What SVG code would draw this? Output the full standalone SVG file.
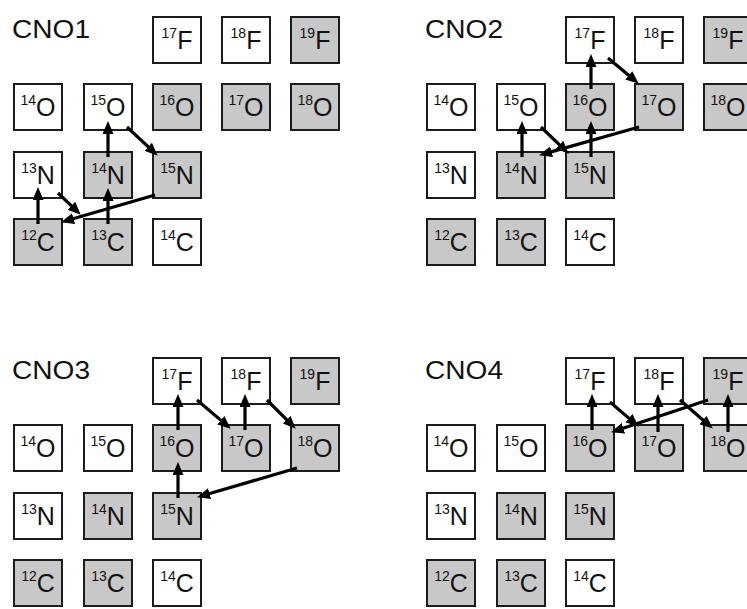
<svg xmlns="http://www.w3.org/2000/svg" width="747" height="609" viewBox="0 0 747 609">
<style>
.b{stroke:#1c1c1c;stroke-width:2}
.w{fill:#ffffff}
.g{fill:#c8c8c8}
.l{font-family:"Liberation Sans",Arial,sans-serif;fill:#111;text-anchor:middle}
.s{font-size:14px}
.e{font-size:25px}
.t{font-family:"Liberation Sans",Arial,sans-serif;font-size:25px;fill:#111}
.a{stroke:#000;stroke-width:3.2;fill:none;marker-end:url(#ah)}
</style>
<defs>
<marker id="ah" viewBox="0 0 13 11" refX="6" refY="5.5" markerWidth="13" markerHeight="11" markerUnits="userSpaceOnUse" orient="auto"><path d="M0,0 L13,5.5 L0,11 z" fill="#000"/></marker>
</defs>
<rect width="747" height="609" fill="#fff"/>

<g id="cno1">
<text class="t" x="12" y="38" textLength="78" lengthAdjust="spacingAndGlyphs">CNO1</text>
<g id="c1-17F"><rect class="b w" x="153" y="17" width="48" height="46"/><text class="l" x="177" y="49"><tspan class="s" dy="-11">17</tspan><tspan class="e" dy="11">F</tspan></text></g>
<g id="c1-18F"><rect class="b w" x="222" y="17" width="48" height="46"/><text class="l" x="246" y="49"><tspan class="s" dy="-11">18</tspan><tspan class="e" dy="11">F</tspan></text></g>
<g id="c1-19F"><rect class="b g" x="291" y="17" width="48" height="46"/><text class="l" x="315" y="49"><tspan class="s" dy="-11">19</tspan><tspan class="e" dy="11">F</tspan></text></g>
<g id="c1-14O"><rect class="b w" x="14" y="84" width="48" height="46"/><text class="l" x="38" y="116"><tspan class="s" dy="-11">14</tspan><tspan class="e" dy="11">O</tspan></text></g>
<g id="c1-15O"><rect class="b w" x="84" y="84" width="48" height="46"/><text class="l" x="108" y="116"><tspan class="s" dy="-11">15</tspan><tspan class="e" dy="11">O</tspan></text></g>
<g id="c1-16O"><rect class="b g" x="153" y="84" width="48" height="46"/><text class="l" x="177" y="116"><tspan class="s" dy="-11">16</tspan><tspan class="e" dy="11">O</tspan></text></g>
<g id="c1-17O"><rect class="b g" x="222" y="84" width="48" height="46"/><text class="l" x="246" y="116"><tspan class="s" dy="-11">17</tspan><tspan class="e" dy="11">O</tspan></text></g>
<g id="c1-18O"><rect class="b g" x="291" y="84" width="48" height="46"/><text class="l" x="315" y="116"><tspan class="s" dy="-11">18</tspan><tspan class="e" dy="11">O</tspan></text></g>
<g id="c1-13N"><rect class="b w" x="14" y="152" width="48" height="46"/><text class="l" x="38" y="184"><tspan class="s" dy="-11">13</tspan><tspan class="e" dy="11">N</tspan></text></g>
<g id="c1-14N"><rect class="b g" x="84" y="152" width="48" height="46"/><text class="l" x="108" y="184"><tspan class="s" dy="-11">14</tspan><tspan class="e" dy="11">N</tspan></text></g>
<g id="c1-15N"><rect class="b g" x="153" y="152" width="48" height="46"/><text class="l" x="177" y="184"><tspan class="s" dy="-11">15</tspan><tspan class="e" dy="11">N</tspan></text></g>
<g id="c1-12C"><rect class="b g" x="14" y="219" width="48" height="46"/><text class="l" x="38" y="251"><tspan class="s" dy="-11">12</tspan><tspan class="e" dy="11">C</tspan></text></g>
<g id="c1-13C"><rect class="b g" x="84" y="219" width="48" height="46"/><text class="l" x="108" y="251"><tspan class="s" dy="-11">13</tspan><tspan class="e" dy="11">C</tspan></text></g>
<g id="c1-14C"><rect class="b w" x="153" y="219" width="48" height="46"/><text class="l" x="177" y="251"><tspan class="s" dy="-11">14</tspan><tspan class="e" dy="11">C</tspan></text></g>
</g>

<g id="cno2" transform="translate(413,0)">
<text class="t" x="12" y="38" textLength="78" lengthAdjust="spacingAndGlyphs">CNO2</text>
<g id="c2-17F"><rect class="b w" x="153" y="17" width="48" height="46"/><text class="l" x="177" y="49"><tspan class="s" dy="-11">17</tspan><tspan class="e" dy="11">F</tspan></text></g>
<g id="c2-18F"><rect class="b w" x="222" y="17" width="48" height="46"/><text class="l" x="246" y="49"><tspan class="s" dy="-11">18</tspan><tspan class="e" dy="11">F</tspan></text></g>
<g id="c2-19F"><rect class="b g" x="291" y="17" width="48" height="46"/><text class="l" x="315" y="49"><tspan class="s" dy="-11">19</tspan><tspan class="e" dy="11">F</tspan></text></g>
<g id="c2-14O"><rect class="b w" x="14" y="84" width="48" height="46"/><text class="l" x="38" y="116"><tspan class="s" dy="-11">14</tspan><tspan class="e" dy="11">O</tspan></text></g>
<g id="c2-15O"><rect class="b w" x="84" y="84" width="48" height="46"/><text class="l" x="108" y="116"><tspan class="s" dy="-11">15</tspan><tspan class="e" dy="11">O</tspan></text></g>
<g id="c2-16O"><rect class="b g" x="153" y="84" width="48" height="46"/><text class="l" x="177" y="116"><tspan class="s" dy="-11">16</tspan><tspan class="e" dy="11">O</tspan></text></g>
<g id="c2-17O"><rect class="b g" x="222" y="84" width="48" height="46"/><text class="l" x="246" y="116"><tspan class="s" dy="-11">17</tspan><tspan class="e" dy="11">O</tspan></text></g>
<g id="c2-18O"><rect class="b g" x="291" y="84" width="48" height="46"/><text class="l" x="315" y="116"><tspan class="s" dy="-11">18</tspan><tspan class="e" dy="11">O</tspan></text></g>
<g id="c2-13N"><rect class="b w" x="14" y="152" width="48" height="46"/><text class="l" x="38" y="184"><tspan class="s" dy="-11">13</tspan><tspan class="e" dy="11">N</tspan></text></g>
<g id="c2-14N"><rect class="b g" x="84" y="152" width="48" height="46"/><text class="l" x="108" y="184"><tspan class="s" dy="-11">14</tspan><tspan class="e" dy="11">N</tspan></text></g>
<g id="c2-15N"><rect class="b g" x="153" y="152" width="48" height="46"/><text class="l" x="177" y="184"><tspan class="s" dy="-11">15</tspan><tspan class="e" dy="11">N</tspan></text></g>
<g id="c2-12C"><rect class="b g" x="14" y="219" width="48" height="46"/><text class="l" x="38" y="251"><tspan class="s" dy="-11">12</tspan><tspan class="e" dy="11">C</tspan></text></g>
<g id="c2-13C"><rect class="b g" x="84" y="219" width="48" height="46"/><text class="l" x="108" y="251"><tspan class="s" dy="-11">13</tspan><tspan class="e" dy="11">C</tspan></text></g>
<g id="c2-14C"><rect class="b w" x="153" y="219" width="48" height="46"/><text class="l" x="177" y="251"><tspan class="s" dy="-11">14</tspan><tspan class="e" dy="11">C</tspan></text></g>
</g>

<g id="cno3" transform="translate(0,341)">
<text class="t" x="12" y="38" textLength="78" lengthAdjust="spacingAndGlyphs">CNO3</text>
<g id="c3-17F"><rect class="b w" x="153" y="17" width="48" height="46"/><text class="l" x="177" y="49"><tspan class="s" dy="-11">17</tspan><tspan class="e" dy="11">F</tspan></text></g>
<g id="c3-18F"><rect class="b w" x="222" y="17" width="48" height="46"/><text class="l" x="246" y="49"><tspan class="s" dy="-11">18</tspan><tspan class="e" dy="11">F</tspan></text></g>
<g id="c3-19F"><rect class="b g" x="291" y="17" width="48" height="46"/><text class="l" x="315" y="49"><tspan class="s" dy="-11">19</tspan><tspan class="e" dy="11">F</tspan></text></g>
<g id="c3-14O"><rect class="b w" x="14" y="84" width="48" height="46"/><text class="l" x="38" y="116"><tspan class="s" dy="-11">14</tspan><tspan class="e" dy="11">O</tspan></text></g>
<g id="c3-15O"><rect class="b w" x="84" y="84" width="48" height="46"/><text class="l" x="108" y="116"><tspan class="s" dy="-11">15</tspan><tspan class="e" dy="11">O</tspan></text></g>
<g id="c3-16O"><rect class="b g" x="153" y="84" width="48" height="46"/><text class="l" x="177" y="116"><tspan class="s" dy="-11">16</tspan><tspan class="e" dy="11">O</tspan></text></g>
<g id="c3-17O"><rect class="b g" x="222" y="84" width="48" height="46"/><text class="l" x="246" y="116"><tspan class="s" dy="-11">17</tspan><tspan class="e" dy="11">O</tspan></text></g>
<g id="c3-18O"><rect class="b g" x="291" y="84" width="48" height="46"/><text class="l" x="315" y="116"><tspan class="s" dy="-11">18</tspan><tspan class="e" dy="11">O</tspan></text></g>
<g id="c3-13N"><rect class="b w" x="14" y="152" width="48" height="46"/><text class="l" x="38" y="184"><tspan class="s" dy="-11">13</tspan><tspan class="e" dy="11">N</tspan></text></g>
<g id="c3-14N"><rect class="b g" x="84" y="152" width="48" height="46"/><text class="l" x="108" y="184"><tspan class="s" dy="-11">14</tspan><tspan class="e" dy="11">N</tspan></text></g>
<g id="c3-15N"><rect class="b g" x="153" y="152" width="48" height="46"/><text class="l" x="177" y="184"><tspan class="s" dy="-11">15</tspan><tspan class="e" dy="11">N</tspan></text></g>
<g id="c3-12C"><rect class="b g" x="14" y="219" width="48" height="46"/><text class="l" x="38" y="251"><tspan class="s" dy="-11">12</tspan><tspan class="e" dy="11">C</tspan></text></g>
<g id="c3-13C"><rect class="b g" x="84" y="219" width="48" height="46"/><text class="l" x="108" y="251"><tspan class="s" dy="-11">13</tspan><tspan class="e" dy="11">C</tspan></text></g>
<g id="c3-14C"><rect class="b w" x="153" y="219" width="48" height="46"/><text class="l" x="177" y="251"><tspan class="s" dy="-11">14</tspan><tspan class="e" dy="11">C</tspan></text></g>
</g>

<g id="cno4" transform="translate(413,341)">
<text class="t" x="12" y="38" textLength="78" lengthAdjust="spacingAndGlyphs">CNO4</text>
<g id="c4-17F"><rect class="b w" x="153" y="17" width="48" height="46"/><text class="l" x="177" y="49"><tspan class="s" dy="-11">17</tspan><tspan class="e" dy="11">F</tspan></text></g>
<g id="c4-18F"><rect class="b w" x="222" y="17" width="48" height="46"/><text class="l" x="246" y="49"><tspan class="s" dy="-11">18</tspan><tspan class="e" dy="11">F</tspan></text></g>
<g id="c4-19F"><rect class="b g" x="291" y="17" width="48" height="46"/><text class="l" x="315" y="49"><tspan class="s" dy="-11">19</tspan><tspan class="e" dy="11">F</tspan></text></g>
<g id="c4-14O"><rect class="b w" x="14" y="84" width="48" height="46"/><text class="l" x="38" y="116"><tspan class="s" dy="-11">14</tspan><tspan class="e" dy="11">O</tspan></text></g>
<g id="c4-15O"><rect class="b w" x="84" y="84" width="48" height="46"/><text class="l" x="108" y="116"><tspan class="s" dy="-11">15</tspan><tspan class="e" dy="11">O</tspan></text></g>
<g id="c4-16O"><rect class="b g" x="153" y="84" width="48" height="46"/><text class="l" x="177" y="116"><tspan class="s" dy="-11">16</tspan><tspan class="e" dy="11">O</tspan></text></g>
<g id="c4-17O"><rect class="b g" x="222" y="84" width="48" height="46"/><text class="l" x="246" y="116"><tspan class="s" dy="-11">17</tspan><tspan class="e" dy="11">O</tspan></text></g>
<g id="c4-18O"><rect class="b g" x="291" y="84" width="48" height="46"/><text class="l" x="315" y="116"><tspan class="s" dy="-11">18</tspan><tspan class="e" dy="11">O</tspan></text></g>
<g id="c4-13N"><rect class="b w" x="14" y="152" width="48" height="46"/><text class="l" x="38" y="184"><tspan class="s" dy="-11">13</tspan><tspan class="e" dy="11">N</tspan></text></g>
<g id="c4-14N"><rect class="b g" x="84" y="152" width="48" height="46"/><text class="l" x="108" y="184"><tspan class="s" dy="-11">14</tspan><tspan class="e" dy="11">N</tspan></text></g>
<g id="c4-15N"><rect class="b g" x="153" y="152" width="48" height="46"/><text class="l" x="177" y="184"><tspan class="s" dy="-11">15</tspan><tspan class="e" dy="11">N</tspan></text></g>
<g id="c4-12C"><rect class="b g" x="14" y="219" width="48" height="46"/><text class="l" x="38" y="251"><tspan class="s" dy="-11">12</tspan><tspan class="e" dy="11">C</tspan></text></g>
<g id="c4-13C"><rect class="b g" x="84" y="219" width="48" height="46"/><text class="l" x="108" y="251"><tspan class="s" dy="-11">13</tspan><tspan class="e" dy="11">C</tspan></text></g>
<g id="c4-14C"><rect class="b w" x="153" y="219" width="48" height="46"/><text class="l" x="177" y="251"><tspan class="s" dy="-11">14</tspan><tspan class="e" dy="11">C</tspan></text></g>
</g>

<g id="connectors">
<line class="a" x1="38" y1="224" x2="38" y2="194"/>
<line class="a" x1="58" y1="193" x2="75.7" y2="209.9"/>
<line class="a" x1="108" y1="224" x2="108" y2="195"/>
<line class="a" x1="108" y1="157" x2="108" y2="128"/>
<line class="a" x1="127" y1="127" x2="152.6" y2="150.9"/>
<line class="a" x1="155" y1="195" x2="67.8" y2="220.3"/>

<line class="a" x1="522" y1="157" x2="522" y2="128"/>
<line class="a" x1="541" y1="127" x2="563.7" y2="148.9"/>
<line class="a" x1="591" y1="157" x2="591" y2="128"/>
<line class="a" x1="591" y1="89" x2="591" y2="61"/>
<line class="a" x1="608" y1="58" x2="633.4" y2="79.2"/>
<line class="a" x1="639" y1="127" x2="545.8" y2="153.4"/>

<line class="a" x1="178" y1="498" x2="178" y2="469"/>
<line class="a" x1="178" y1="430" x2="178" y2="401"/>
<line class="a" x1="197" y1="400" x2="225.4" y2="424.1"/>
<line class="a" x1="245" y1="430" x2="245" y2="401"/>
<line class="a" x1="267" y1="400" x2="290.8" y2="423.8"/>
<line class="a" x1="297" y1="468" x2="203.8" y2="495.3"/>

<line class="a" x1="592" y1="430" x2="592" y2="401"/>
<line class="a" x1="610" y1="402" x2="633.4" y2="422.1"/>
<line class="a" x1="658" y1="432" x2="658" y2="401"/>
<line class="a" x1="680" y1="400" x2="707.5" y2="424"/>
<line class="a" x1="728" y1="432" x2="728" y2="401"/>
<line class="a" x1="708" y1="400" x2="617.7" y2="430.1"/>
</g>
</svg>
